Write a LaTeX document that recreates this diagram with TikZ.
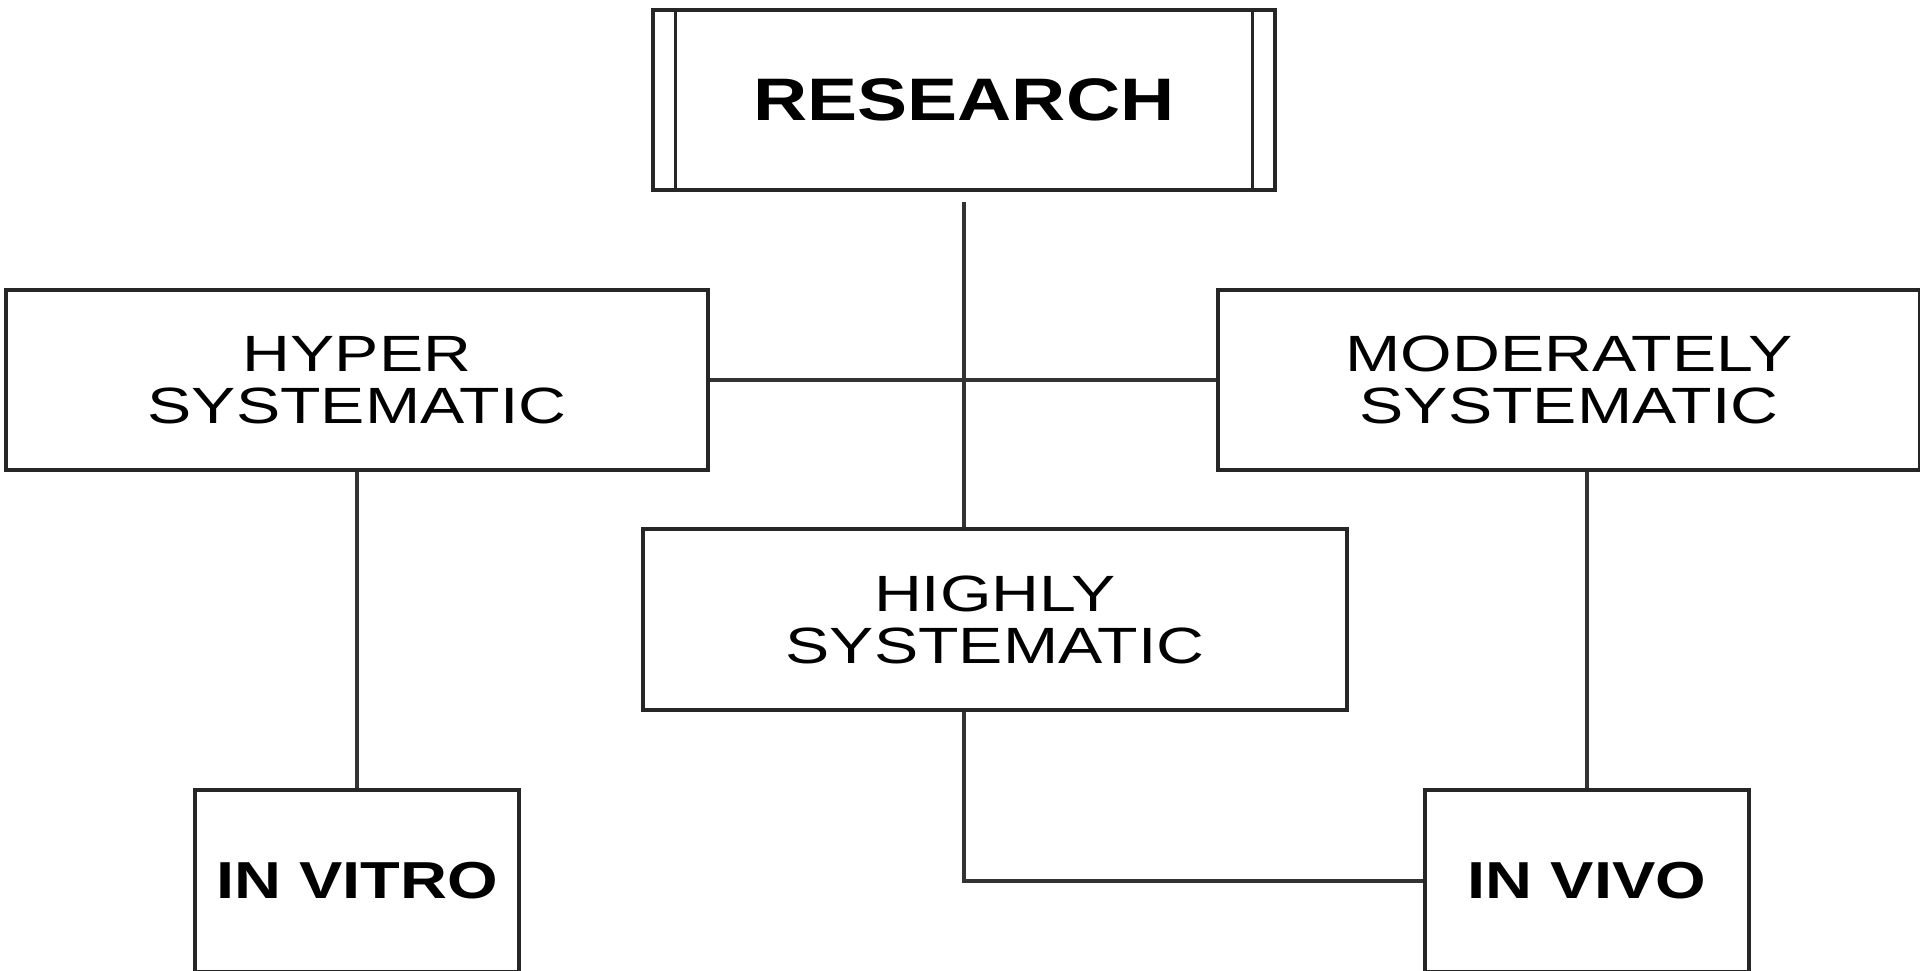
\documentclass[tikz,border=0pt]{standalone}
\usepackage{fontspec}
\setmainfont[FakeStretch=1.25]{Liberation Sans}
\newfontfamily\widefont[FakeStretch=1.3]{Liberation Sans}
\begin{document}
\begin{tikzpicture}[x=1pt,y=-1pt,
  box/.style={draw=black!85,line width=3.4pt,rectangle,inner sep=0pt,align=center,font=\widefont\fontsize{51}{52}\selectfont},
  boldbox/.style={box,font=\fontsize{52}{54}\selectfont\bfseries},
  link/.style={draw=black!80,line width=3.4pt}]
\useasboundingbox (0,0) rectangle (1920,970);
\node[box,font=\fontsize{60}{62}\selectfont\bfseries,minimum width=622pt,minimum height=180pt] (res) at (964,100) {RESEARCH};
\draw[black!85,line width=3.4pt] ([xshift=24pt]res.north west) -- ([xshift=24pt]res.south west);
\draw[black!85,line width=3.4pt] ([xshift=-24pt]res.north east) -- ([xshift=-24pt]res.south east);
\node[box,minimum width=702pt,minimum height=180pt] (hyp) at (357,380) {HYPER\\SYSTEMATIC};
\node[box,minimum width=702pt,minimum height=180pt] (mod) at (1569,380) {MODERATELY\\SYSTEMATIC};
\node[box,minimum width=704pt,minimum height=181pt] (hig) at (995,619.5) {HIGHLY\\SYSTEMATIC};
\node[boldbox,minimum width=324pt,minimum height=182pt] (vit) at (357,881) {IN VITRO};
\node[boldbox,minimum width=324pt,minimum height=182pt] (viv) at (1587,881) {IN VIVO};
\coordinate (rtop) at ([yshift=-10pt]res.south);
\draw[link] (rtop) -- (rtop |- hig.north);
\draw[link] (hyp.east) -- (mod.west);
\draw[link] (hyp.south) -- (hyp.south |- vit.north);
\draw[link] (viv.north |- mod.south) -- (viv.north);
\draw[link] (rtop |- hig.south) |- (viv.west);
\end{tikzpicture}
\end{document}
